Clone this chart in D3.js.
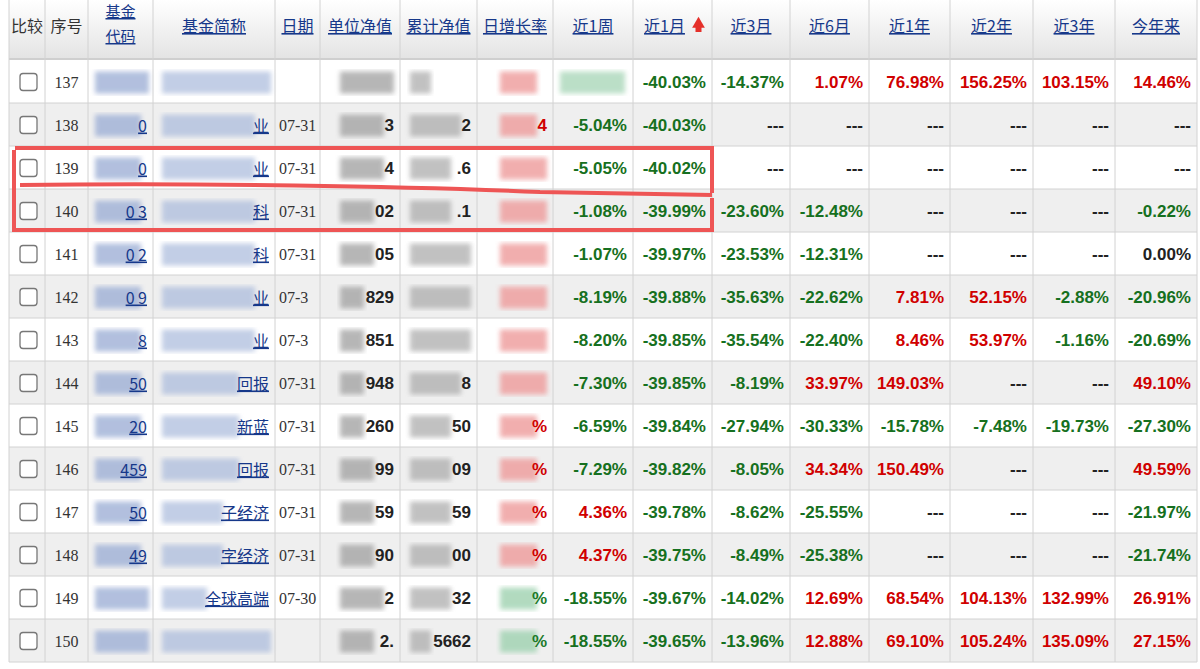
<!DOCTYPE html>
<html><head><meta charset="utf-8">
<script src="https://cdn.jsdelivr.net/npm/d3@7"></script>
<style>body{margin:0;background:#fff}</style>
</head><body><div id="tbl"></div>
<script>
const headers = ["比较","序号","基金代码","基金简称","日期","单位净值","累计净值","日增长率","近1周","近1月","近3月","近6月","近1年","近2年","近3年","今年来"]
const ids = [137,138,139,140,141,142,143,144,145,146,147,148,149,150]
const dates = ["","07-31","07-31","07-31","07-31","07-3","07-3","07-31","07-31","07-31","07-31","07-31","07-30",""]
const codeFrag = ["","0","0","0  3","0  2","0  9","  8","50","20","459","50","49","",""]
const nameFrag = ["","业","业","科","科","业","业","回报","新蓝","回报","子经济","字经济","全球高端",""]
const navFrag = ["","3","4","02","05","829","851","948","260","99","59","90","2","2."]
const accFrag = ["4372","2",".6",".1","","","","8","50","09","59","00","32","5662"]
const dayFrag = ["5.53%","4","","","","","","","%","%","%","%","%","%"]
const dayTone = ["r","r","r","r","r","r","r","r","r","r","r","r","g","g"]
const w1  = [null,-5.04,-5.05,-1.08,-1.07,-8.19,-8.20,-7.30,-6.59,-7.29,4.36,4.37,-18.55,-18.55]
const m1  = [-40.03,-40.03,-40.02,-39.99,-39.97,-39.88,-39.85,-39.85,-39.84,-39.82,-39.78,-39.75,-39.67,-39.65]
const m3  = [-14.37,null,null,-23.60,-23.53,-35.63,-35.54,-8.19,-27.94,-8.05,-8.62,-8.49,-14.02,-13.96]
const m6  = [1.07,null,null,-12.48,-12.31,-22.62,-22.40,33.97,-30.33,34.34,-25.55,-25.38,12.69,12.88]
const y1  = [76.98,null,null,null,null,7.81,8.46,149.03,-15.78,150.49,null,null,68.54,69.10]
const y2  = [156.25,null,null,null,null,52.15,53.97,null,-7.48,null,null,null,104.13,105.24]
const y3  = [103.15,null,null,null,null,-2.88,-1.16,null,-19.73,null,null,null,132.99,135.09]
const ytd = [14.46,null,null,-0.22,0.00,-20.96,-20.69,49.10,-27.30,49.59,-21.97,-21.74,26.91,27.15]
const perf = [w1,m1,m3,m6,y1,y2,y3,ytd]

const W = 1200, H = 669
const edges = [9,45,88,153,275,320,400,477,553,633,712,790,869,950,1033,1115,1197]
const headH = 58, rowTop = 60, rowH = 43
const y = d3.scaleBand().domain(ids).range([rowTop, rowTop + rowH*ids.length])

const svg = d3.select("#tbl").append("svg").attr("width",W).attr("height",H)
const defs = svg.append("defs")
const hg = defs.append("linearGradient").attr("id","hg").attr("x1",0).attr("x2",0).attr("y1",0).attr("y2",1)
hg.append("stop").attr("offset","0").attr("stop-color","#ffffff")
hg.append("stop").attr("offset","1").attr("stop-color","#e4e4e4")
defs.append("filter").attr("id","bl").append("feGaussianBlur").attr("stdDeviation",2.5)

svg.append("rect").attr("x",edges[0]).attr("y",0).attr("width",edges[16]-edges[0]).attr("height",headH).attr("fill","url(#hg)")
svg.append("rect").attr("x",edges[0]).attr("y",headH).attr("width",edges[16]-edges[0]).attr("height",2).attr("fill","#cfcfcf")

// rows backgrounds
svg.selectAll(".rb").data(ids).join("rect")
  .attr("x",edges[0]).attr("y",d=>y(d)).attr("width",edges[16]-edges[0]).attr("height",rowH)
  .attr("fill",d=>d%2===0?"#efefef":"#ffffff")
svg.selectAll(".rl").data(ids).join("line")
  .attr("x1",edges[0]).attr("x2",edges[16]).attr("y1",d=>y(d)+rowH).attr("y2",d=>y(d)+rowH)
  .attr("stroke","#d2d2d2")
svg.selectAll(".cl").data(edges).join("line")
  .attr("x1",d=>d).attr("x2",d=>d).attr("y1",0).attr("y2",y(150)+rowH).attr("stroke","#d2d2d2")

// header
const cx = i => (edges[i]+edges[i+1])/2
headers.forEach((h,i)=>{
  const link = i>=2
  const g = svg.append("text").attr("text-anchor","middle")
    .attr("font-family","'Noto Sans CJK SC'").attr("font-size",i===2?15:16)
    .attr("fill",link?"#16388a":"#333").attr("text-decoration",link?"underline":null)
  if(i===2){
    g.append("tspan").attr("x",cx(i)).attr("y",17).text("基金")
    g.append("tspan").attr("x",cx(i)).attr("y",42).text("代码")
  } else {
    g.attr("x",i===9?cx(i)-8:cx(i)).attr("y",32).text(h)
  }
})
svg.append("path").attr("d",d3.symbol(d3.symbolTriangle,70)()).attr("transform",`translate(${cx(9)+26},24)`).attr("fill","#e5302a")
svg.append("rect").attr("x",cx(9)+23).attr("y",26).attr("width",6).attr("height",6).attr("fill","#e5302a")

ids.forEach((id,r)=>{
  const top = y(id), mid = top+rowH/2
  // checkbox
  svg.append("rect").attr("x",20).attr("y",mid-8).attr("width",17).attr("height",17).attr("rx",3)
    .attr("fill","#fff").attr("stroke","#777").attr("stroke-width",1.3)
  svg.append("text").attr("x",cx(1)).attr("y",mid+6).attr("text-anchor","middle")
    .attr("font-family","'Liberation Serif'").attr("font-size",16).attr("fill","#333").text(id)
  // blurred blocks
  const blk = (x0,x1,col,op)=>svg.append("rect").attr("x",x0).attr("y",mid-10).attr("width",x1-x0).attr("height",22)
    .attr("fill",col).attr("opacity",op).attr("filter","url(#bl)")
  blk(95,edges[3]-(codeFrag[r].length?12:4),"#9fb0d6",0.8)
  blk(162,edges[4]-(nameFrag[r].length*16+4),"#a9badc",0.7)
  blk(340,edges[6]-(navFrag[r].length*10+6),"#a5a5a5",0.8)
  blk(410,edges[7]-(accFrag[r].length*10+6),"#a8a8a8",0.7)
  blk(500,edges[8]-(dayFrag[r].length?16:6),dayTone[r]==="r"?"#ee9b9b":"#9fd2b0",0.8)
  if(r===0) blk(560,625,"#9fd2b0",0.7)
  const linkTxt = (t,i)=>svg.append("text").attr("x",edges[i+1]-6).attr("y",mid+7).attr("text-anchor","end")
    .attr("font-family","'Noto Sans CJK SC'").attr("font-size",16).attr("fill","#16388a")
    .attr("text-decoration","underline").text(t)
  if(codeFrag[r]) linkTxt(codeFrag[r].trim(),2)
  if(nameFrag[r]) linkTxt(nameFrag[r],3)
  if(dates[r]) svg.append("text").attr("x",edges[4]+4).attr("y",mid+6).attr("font-family","'Liberation Serif'")
    .attr("font-size",16).attr("fill","#333").text(dates[r])
  const boldTxt = (t,i,c)=>svg.append("text").attr("x",edges[i+1]-6).attr("y",mid+6).attr("text-anchor","end")
    .attr("font-family","'Liberation Sans', Arial").attr("font-weight","bold").attr("font-size",17).attr("fill",c).text(t)
  if(navFrag[r]) boldTxt(navFrag[r],5,"#222")
  if(accFrag[r] && r>0) boldTxt(accFrag[r],6,"#222")
  if(dayFrag[r] && r>0) boldTxt(dayFrag[r],7,dayTone[r]==="r"?"#d00000":"#1c7a2a")
  perf.forEach((arr,k)=>{
    const v = arr[r]
    if(v===null){ if(!(r===0&&k===0)) boldTxt("---",8+k,"#222"); return }
    boldTxt(v.toFixed(2)+"%",8+k, v>0?"#d00000":v<0?"#167020":"#222")
  })
})

// red annotation
const red = "#ee5555"
svg.append("path").attr("d","M15,148 L712,148 L712,193").attr("fill","none").attr("stroke",red).attr("stroke-width",4)
svg.append("path").attr("d","M20,185 C200,183 400,186 540,192 L712,195").attr("fill","none").attr("stroke",red).attr("stroke-width",4)
svg.append("path").attr("d","M14,150 L14,230 L712,230 L712,198").attr("fill","none").attr("stroke",red).attr("stroke-width",4)
</script></body></html>
